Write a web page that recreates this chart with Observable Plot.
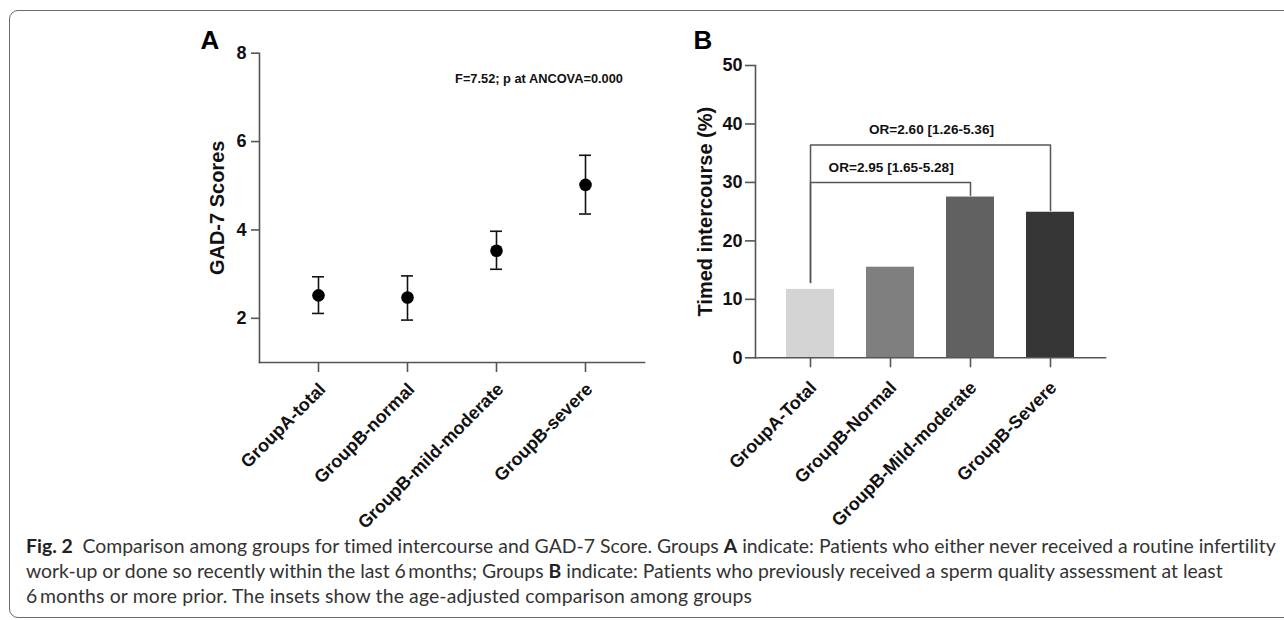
<!DOCTYPE html>
<html>
<head>
<meta charset="utf-8">
<script src="https://cdn.jsdelivr.net/npm/d3@7"></script>
<script src="https://cdn.jsdelivr.net/npm/@observablehq/plot@0.6"></script>
<style>
html, body { margin: 0; padding: 0; background: #fff; }
#fig { position: relative; width: 1284px; height: 620px; overflow: hidden; }
#border { position: absolute; left: 9px; top: 10px; width: 1320px; height: 608px; border: 1.6px solid #6a6a6a; border-radius: 9px; box-sizing: border-box; }
#panelA { position: absolute; left: 0; top: 0; }
#panelB { position: absolute; left: 660px; top: 0; }
#caption { position: absolute; left: 26px; top: 533px; font-family: Lato, "Open Sans", sans-serif; color: #333; font-size: 18px; line-height: 25px; white-space: nowrap; }
#caption .ln { width: max-content; }
#caption b { color: #222; }
</style>
</head>
<body>
<div id="fig">
  <div id="border"></div>
  <div id="panelA"></div>
  <div id="panelB"></div>
  <div id="caption"></div>
</div>
<script>
// ---------- Panel A data (GAD-7 scores, mean with error bars) ----------
const groupsA = ["GroupA-total", "GroupB-normal", "GroupB-mild-moderate", "GroupB-severe"];
const gadMean = [2.52, 2.47, 3.53, 5.02];
const gadLower = [2.11, 1.96, 3.11, 4.36];
const gadUpper = [2.94, 2.96, 3.97, 5.69];
const gadTicks = [2, 4, 6, 8];
const gadDomain = [1, 8];
const annotationA = "F=7.52; p at ANCOVA=0.000";

// ---------- Panel B data (Timed intercourse %) ----------
const groupsB = ["GroupA-Total", "GroupB-Normal", "GroupB-Mild-moderate", "GroupB-Severe"];
const timedPct = [11.7, 15.5, 27.5, 24.9];
const barGrays = ["#d4d4d4", "#7f7f7f", "#616161", "#363636"];
const pctTicks = [0, 10, 20, 30, 40, 50];
const pctDomain = [0, 50];
const bracketFrom = [0, 0];
const bracketTo = [2, 3];
const bracketLevel = [30.0, 36.4];
const bracketLabel = ["OR=2.95 [1.65-5.28]", "OR=2.60 [1.26-5.36]"];

// ---------- Caption ----------
const captionLines = [
  [["b", "Fig. 2"], ["t", "\u2002Comparison among groups for timed intercourse and GAD-7 Score. Groups "], ["b", "A"], ["t", " indicate: Patients who either never received a routine infertility"]],
  [["t", "work-up or done so recently within the last 6\u2009months; Groups "], ["b", "B"], ["t", " indicate: Patients who previously received a sperm quality assessment at least"]],
  [["t", "6\u2009months or more prior. The insets show the age-adjusted comparison among groups"]]
];
const captionWidths = [1251, 1197, 726];

// ---------- Styles ----------
const FONT = "'Liberation Sans', Arial, Helvetica, sans-serif";
const axisColor = "#555";
const inkColor = "#111";
const H = 540;
const intFmt = d => String(d);

// ---------- Panel A ----------
const idxA = d3.range(groupsA.length);
const plotA = Plot.plot({
  width: 660, height: H,
  marginTop: 52.7, marginRight: 16, marginBottom: H - 362, marginLeft: 259,
  style: {fontFamily: FONT, background: "transparent", overflow: "visible"},
  x: {type: "point", domain: groupsA, padding: 0.65, axis: null},
  y: {domain: gadDomain, axis: null},
  marks: [
    Plot.frame({anchor: "left", stroke: axisColor, strokeWidth: 1.6}),
    Plot.frame({anchor: "bottom", stroke: axisColor, strokeWidth: 1.6}),
    Plot.axisY({ticks: gadTicks, tickFormat: intFmt, tickSize: 8, tickPadding: 5, label: null, fontSize: 18, fontWeight: "bold", stroke: axisColor, strokeWidth: 1.6, fill: inkColor}),
    Plot.axisX({tickSize: 10, tickFormat: () => "", label: null, stroke: axisColor, strokeWidth: 1.6}),
    Plot.text(groupsA, {x: d => d, text: d => d, frameAnchor: "bottom", rotate: -45, textAnchor: "end", lineAnchor: "bottom", dx: 8, dy: 28, fontSize: 18, fontWeight: "bold", fill: inkColor}),
    Plot.ruleX(idxA, {x: i => groupsA[i], y1: i => gadLower[i], y2: i => gadUpper[i], stroke: inkColor, strokeWidth: 1.6}),
    Plot.ruleY(idxA, {y: i => gadUpper[i], x1: i => groupsA[i], x2: i => groupsA[i], insetLeft: -6, insetRight: -6, stroke: inkColor, strokeWidth: 1.6}),
    Plot.ruleY(idxA, {y: i => gadLower[i], x1: i => groupsA[i], x2: i => groupsA[i], insetLeft: -6, insetRight: -6, stroke: inkColor, strokeWidth: 1.6}),
    Plot.dot(idxA, {x: i => groupsA[i], y: i => gadMean[i], r: 6.3, fill: "#000", stroke: null}),
    Plot.text(["GAD-7 Scores"], {text: d => d, frameAnchor: "left", dx: -41.5, rotate: -90, textAnchor: "middle", lineAnchor: "middle", fontSize: 20, fontWeight: "bold", fill: inkColor}),
    Plot.text(["A"], {text: d => d, frameAnchor: "top-left", dx: -59, dy: -4.7, textAnchor: "start", lineAnchor: "bottom", fontSize: 26, fontWeight: "bold", fill: "#000"}),
    Plot.text([annotationA], {text: d => d, frameAnchor: "top", dx: 87, dy: 25.3, textAnchor: "middle", lineAnchor: "middle", fontSize: 12.8, fontWeight: "bold", fill: inkColor})
  ]
});
document.getElementById("panelA").appendChild(plotA);

// ---------- Panel B ----------
const WB = 624;
const mB = {top: 65, right: 179, bottom: H - 357.3, left: 95};
const padIn = 0.4, padOut = 0.37;
const stepB = (WB - mB.left - mB.right) / (groupsB.length - padIn + 2 * padOut);
const idxB = d3.range(groupsB.length);
const fromGap = 1.2, toGap = 0.3;
const bracketPts = bracketFrom.flatMap((f, k) => [
  {k, g: groupsB[f], v: timedPct[f] + fromGap},
  {k, g: groupsB[f], v: bracketLevel[k]},
  {k, g: groupsB[bracketTo[k]], v: bracketLevel[k]},
  {k, g: groupsB[bracketTo[k]], v: timedPct[bracketTo[k]] + toGap}
]);
const plotB = Plot.plot({
  width: WB, height: H,
  marginTop: mB.top, marginRight: mB.right, marginBottom: mB.bottom, marginLeft: mB.left,
  style: {fontFamily: FONT, background: "transparent", overflow: "visible"},
  x: {type: "band", domain: groupsB, paddingInner: padIn, paddingOuter: padOut, axis: null},
  y: {domain: pctDomain, axis: null},
  color: {type: "identity"},
  marks: [
    Plot.barY(idxB, {x: i => groupsB[i], y: i => timedPct[i], fill: i => barGrays[i]}),
    Plot.frame({anchor: "left", stroke: axisColor, strokeWidth: 1.6}),
    Plot.frame({anchor: "bottom", stroke: axisColor, strokeWidth: 1.6}),
    Plot.axisY({ticks: pctTicks, tickFormat: intFmt, tickSize: 10, tickPadding: 3, label: null, fontSize: 18, fontWeight: "bold", stroke: axisColor, strokeWidth: 1.6, fill: inkColor}),
    Plot.axisX({tickSize: 10, tickFormat: () => "", label: null, stroke: axisColor, strokeWidth: 1.6}),
    Plot.text(groupsB, {x: d => d, text: d => d, frameAnchor: "bottom", rotate: -45, textAnchor: "end", lineAnchor: "bottom", dx: 7, dy: 31, fontSize: 18, fontWeight: "bold", fill: inkColor}),
    Plot.line(bracketPts, {x: "g", y: "v", z: "k", stroke: axisColor, strokeWidth: 1.5}),
    ...bracketFrom.map((f, k) => Plot.text([k], {
      x: () => groupsB[f], y: () => bracketLevel[k], text: () => bracketLabel[k],
      dx: (bracketTo[k] - f) * stepB / 2, dy: -10.8, textAnchor: "middle", lineAnchor: "bottom",
      fontSize: 13.6, fontWeight: "bold", fill: inkColor
    })),
    Plot.text(["Timed intercourse (%)"], {text: d => d, frameAnchor: "left", dx: -50, rotate: -90, textAnchor: "middle", lineAnchor: "middle", fontSize: 20, fontWeight: "bold", fill: inkColor}),
    Plot.text(["B"], {text: d => d, frameAnchor: "top-left", dx: -62, dy: -17, textAnchor: "start", lineAnchor: "bottom", fontSize: 26, fontWeight: "bold", fill: "#000"})
  ]
});
document.getElementById("panelB").appendChild(plotB);

// ---------- Caption build + width fit ----------
const cap = document.getElementById("caption");
captionLines.forEach(parts => {
  const ln = document.createElement("div");
  ln.className = "ln";
  parts.forEach(([kind, str]) => {
    const el = document.createElement(kind === "b" ? "b" : "span");
    el.textContent = str;
    ln.appendChild(el);
  });
  cap.appendChild(ln);
});
function fitCaption() {
  const lines = [...cap.querySelectorAll(".ln")];
  const base = 18;
  cap.style.fontSize = base + "px";
  lines.forEach(l => l.style.letterSpacing = "0px");
  const w0 = lines[0].getBoundingClientRect().width;
  const fs = base * captionWidths[0] / w0;
  cap.style.fontSize = fs + "px";
  lines.forEach((ln, i) => {
    const w = ln.getBoundingClientRect().width;
    const n = ln.textContent.length;
    ln.style.letterSpacing = ((captionWidths[i] - w) / n) + "px";
  });
}
fitCaption();
if (document.fonts && document.fonts.ready) document.fonts.ready.then(fitCaption);
</script>
</body>
</html>
